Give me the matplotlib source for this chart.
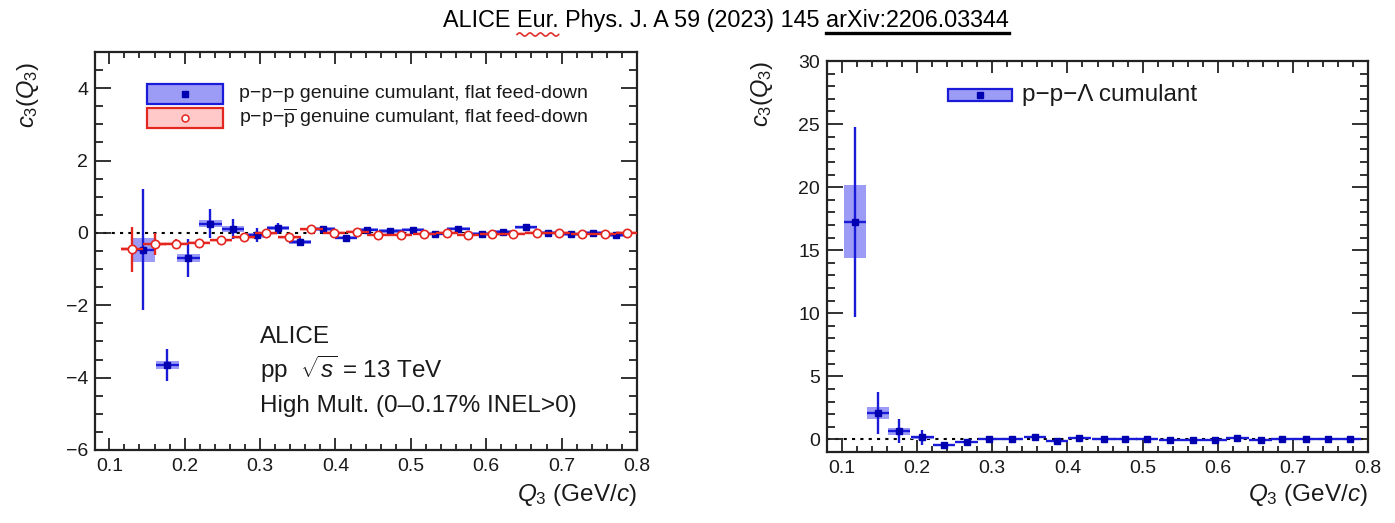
import matplotlib
matplotlib.use('Agg')
import matplotlib.pyplot as plt
from matplotlib.patches import Rectangle
from matplotlib.lines import Line2D
from matplotlib.ticker import MultipleLocator, FixedLocator
import numpy as np

plt.rcParams['font.family'] = ['Liberation Sans', 'DejaVu Sans']
plt.rcParams['mathtext.fontset'] = 'custom'
plt.rcParams['mathtext.rm'] = 'Liberation Sans'
plt.rcParams['mathtext.it'] = 'Liberation Sans:italic'
plt.rcParams['mathtext.bf'] = 'Liberation Sans:bold'
plt.rcParams['axes.unicode_minus'] = True

# ---------------- data ----------------
# left panel: p-p-p genuine cumulant
ppp_x = [0.145, 0.177, 0.205, 0.234, 0.264, 0.296, 0.324, 0.353, 0.384, 0.414, 0.442,
         0.473, 0.503, 0.532, 0.563, 0.594, 0.622, 0.653, 0.682, 0.713, 0.742, 0.772]
ppp_y = [-0.47, -3.65, -0.69, 0.25, 0.11, -0.06, 0.13, -0.25, 0.10, -0.13, 0.09,
         0.06, 0.09, -0.02, 0.12, -0.02, 0.03, 0.15, 0.01, -0.04, 0.01, -0.05]
ppp_stat = [1.67, 0.45, 0.52, 0.40, 0.27, 0.20, 0.15, 0.10, 0.08, 0.07, 0.06,
            0.05, 0.05, 0.05, 0.04, 0.04, 0.04, 0.04, 0.03, 0.03, 0.03, 0.03]
ppp_sys = [0.34, 0.12, 0.11, 0.10, 0.08, 0.07, 0.06, 0.06, 0.05, 0.05, 0.05,
           0.05, 0.05, 0.05, 0.05, 0.05, 0.05, 0.05, 0.05, 0.05, 0.05, 0.05]

# left panel: p-p-pbar genuine cumulant
pppb_x = [0.130, 0.160, 0.189, 0.219, 0.248, 0.278, 0.308, 0.339, 0.368, 0.398, 0.429, 0.457,
          0.487, 0.518, 0.548, 0.576, 0.607, 0.636, 0.667, 0.696, 0.727, 0.757, 0.787]
pppb_y = [-0.45, -0.31, -0.30, -0.27, -0.20, -0.12, -0.01, -0.12, 0.10, 0.00, 0.03, -0.05,
          -0.05, -0.02, 0.01, -0.05, -0.04, -0.02, 0.01, 0.00, -0.02, -0.02, 0.01]
pppb_stat = [0.62, 0.30, 0.12, 0.09, 0.07, 0.06, 0.05, 0.04, 0.04, 0.03, 0.03, 0.03,
             0.03, 0.03, 0.03, 0.03, 0.03, 0.03, 0.03, 0.03, 0.03, 0.03, 0.03]
pppb_sys = [0.06, 0.05, 0.04, 0.04, 0.04, 0.04, 0.04, 0.04, 0.04, 0.04, 0.04, 0.04,
            0.04, 0.04, 0.04, 0.04, 0.04, 0.04, 0.04, 0.04, 0.04, 0.04, 0.04]

# right panel: p-p-Lambda cumulant
ppl_x = [0.117, 0.148, 0.176, 0.207, 0.236, 0.266, 0.296, 0.326, 0.357, 0.386, 0.416, 0.448,
         0.477, 0.506, 0.537, 0.567, 0.597, 0.626, 0.657, 0.686, 0.717, 0.747, 0.776]
ppl_y = [17.25, 2.1, 0.63, 0.15, -0.45, -0.2, 0.05, 0.0, 0.18, -0.16, 0.13, 0.03,
         0.05, 0.05, -0.08, -0.08, -0.08, 0.10, -0.08, 0.03, 0.0, 0.0, 0.05]
ppl_stat = [7.55, 1.65, 0.95, 0.6, 0.25, 0.18, 0.12, 0.1, 0.1, 0.08, 0.08, 0.07,
            0.07, 0.06, 0.06, 0.06, 0.06, 0.06, 0.06, 0.06, 0.06, 0.06, 0.06]
ppl_sys = [2.9, 0.5, 0.25, 0.12, 0.08, 0.06, 0.05, 0.05, 0.05, 0.05, 0.05, 0.05,
           0.05, 0.05, 0.05, 0.05, 0.05, 0.05, 0.05, 0.05, 0.05, 0.05, 0.05]

bin_half = 0.015

BLUE = '#1a1ad9'
BLUE_M = '#0000b0'
BLUE_L = '#9c9cf7'
RED = '#e3261f'
RED_L = '#ffc9c9'
TXT = '#1a1a1a'

W, H = 1395, 523
fig = plt.figure(figsize=(W / 100, H / 100), dpi=100)
ax1 = fig.add_axes([95 / W, 1 - 450 / H, 542 / W, 398 / H])
ax2 = fig.add_axes([827 / W, 1 - 452 / H, 541 / W, 391 / H])


def style(ax):
    ax.tick_params(which='both', direction='in', top=True, right=True,
                   labelsize=14, width=1.3, color='#222222', labelcolor=TXT)
    ax.tick_params(axis='x', which='major', length=8.6, pad=6)
    ax.tick_params(axis='x', which='minor', length=4.3)
    ax.tick_params(axis='y', which='major', length=11.5, pad=5)
    ax.tick_params(axis='y', which='minor', length=5.8)
    for s in ax.spines.values():
        s.set_linewidth(1.6)
        s.set_color('#222222')
    ax.xaxis.set_major_locator(MultipleLocator(0.1))
    ax.xaxis.set_minor_locator(MultipleLocator(0.02))


# ---------------- left panel ----------------
style(ax1)
ax1.set_xlim(0.081, 0.8)
ax1.set_ylim(-6, 5)
ax1.yaxis.set_major_locator(FixedLocator([-6, -4, -2, 0, 2, 4]))
ax1.yaxis.set_minor_locator(MultipleLocator(0.5))
ax1.axhline(0, color='black', ls=(0, (1.5, 2.5)), lw=1.5, zorder=1)

ax1.bar(pppb_x, 2 * np.array(pppb_sys), width=2 * bin_half,
        bottom=np.array(pppb_y) - np.array(pppb_sys), color=RED_L, edgecolor='none', zorder=2)
ax1.bar(ppp_x, 2 * np.array(ppp_sys), width=2 * bin_half,
        bottom=np.array(ppp_y) - np.array(ppp_sys), color=BLUE_L, edgecolor='none', zorder=2)
ax1.errorbar(ppp_x, ppp_y, yerr=ppp_stat, xerr=bin_half, fmt='s', color=BLUE, ms=5,
             mfc=BLUE_M, mec=BLUE_M, elinewidth=1.7, capsize=0, zorder=3)
ax1.errorbar(pppb_x, pppb_y, yerr=pppb_stat, xerr=bin_half, fmt='o', color=RED, ms=6,
             mfc='white', mec=RED, mew=1.2, elinewidth=1.7, capsize=0, zorder=4)

# legend (left)
ax1.add_patch(Rectangle((0.096, 0.869), 0.140, 0.051, transform=ax1.transAxes,
                        fc=BLUE_L, ec=BLUE, lw=1.6, zorder=5))
ax1.add_line(Line2D([0.166], [0.8945], transform=ax1.transAxes, marker='s', ms=4.5,
                    color=BLUE_M, zorder=6))
ax1.add_patch(Rectangle((0.096, 0.809), 0.140, 0.051, transform=ax1.transAxes,
                        fc=RED_L, ec=RED, lw=1.6, zorder=5))
ax1.add_line(Line2D([0.166], [0.8345], transform=ax1.transAxes, marker='o', ms=5,
                    mfc='white', mec=RED, mew=1.1, zorder=6))
ax1.text(0.266, 0.8945, "p\u2212p\u2212p genuine cumulant, flat feed-down",
         transform=ax1.transAxes, fontsize=14, va='center', ha='left', color=TXT)
ax1.text(0.266, 0.8345, "p\u2212p\u2212$\\overline{\\mathrm{p}}$ genuine cumulant, flat feed-down",
         transform=ax1.transAxes, fontsize=14, va='center', ha='left', color=TXT)

ax1.text(0.304, 0.268, "ALICE", transform=ax1.transAxes, fontsize=17.5, color=TXT)
ax1.text(0.304, 0.180, "pp  $\\sqrt{s}$ = 13 TeV", transform=ax1.transAxes, fontsize=17.5,
         color=TXT)
ax1.text(0.304, 0.095, "High Mult. (0\u20130.17% INEL>0)", transform=ax1.transAxes,
         fontsize=17.5, color=TXT)

ax1.set_ylabel("$c_3(Q_3)$", fontsize=17, loc='top', color=TXT)
ax1.yaxis.set_label_coords(-0.10, 0.975)
ax1.set_xlabel("$Q_3$ (GeV/$c$)", fontsize=17.5, loc='right', color=TXT)
ax1.xaxis.set_label_coords(1.0, -0.08)

# ---------------- right panel ----------------
style(ax2)
ax2.set_xlim(0.08, 0.8)
ax2.set_ylim(-1, 30)
ax2.yaxis.set_major_locator(FixedLocator([0, 5, 10, 15, 20, 25, 30]))
ax2.yaxis.set_minor_locator(MultipleLocator(1))
ax2.axhline(0, color='black', ls=(0, (1.5, 2.5)), lw=1.5, zorder=1)

ax2.bar(ppl_x, 2 * np.array(ppl_sys), width=2 * bin_half,
        bottom=np.array(ppl_y) - np.array(ppl_sys), color=BLUE_L, edgecolor='none', zorder=2)
ax2.errorbar(ppl_x, ppl_y, yerr=ppl_stat, xerr=bin_half, fmt='s', color=BLUE, ms=5,
             mfc=BLUE_M, mec=BLUE_M, elinewidth=1.7, capsize=0, zorder=3)

ax2.add_patch(Rectangle((0.224, 0.898), 0.118, 0.030, transform=ax2.transAxes,
                        fc=BLUE_L, ec=BLUE, lw=1.6, zorder=5))
ax2.add_line(Line2D([0.283], [0.913], transform=ax2.transAxes, marker='s', ms=4.5,
                    color=BLUE_M, zorder=6))
ax2.text(0.36, 0.913, "p\u2212p\u2212\u039b cumulant", transform=ax2.transAxes,
         fontsize=17.5, va='center', ha='left', color=TXT)

ax2.set_ylabel("$c_3(Q_3)$", fontsize=17, loc='top', color=TXT)
ax2.yaxis.set_label_coords(-0.096, 1.0)
ax2.set_xlabel("$Q_3$ (GeV/$c$)", fontsize=17.5, loc='right', color=TXT)
ax2.xaxis.set_label_coords(1.0, -0.077)

# ---------------- title ----------------
full = "ALICE Eur. Phys. J. A 59 (2023) 145 arXiv:2206.03344"
tx, ty = 443 / W, 1 - 20 / H
tsize = 16.8
title = fig.text(tx, ty, full, fontsize=tsize, ha='left', va='center', color='black')
r = fig.canvas.get_renderer()


def width_of(s):
    t = fig.text(0, 0, s, fontsize=tsize)
    w = t.get_window_extent(r).width
    t.remove()
    return w


bb = title.get_window_extent(r)
w_full = width_of(full)
w_arx = width_of("arXiv:2206.03344")
x0 = bb.x0
ul_start = x0 + w_full - w_arx
ul_y = bb.y0 - 1
fig.add_artist(Line2D([ul_start / W, (x0 + w_full) / W], [ul_y / H, ul_y / H],
                      color='black', lw=2.4, transform=fig.transFigure))
w_eur_end = width_of("ALICE Eur.")
w_eur = width_of("Eur.")
es, ee = x0 + w_eur_end - w_eur, x0 + w_eur_end
xs = np.linspace(es, ee, 60)
ys = bb.y0 - 3 + 1.6 * np.sin((xs - es) / (ee - es) * 2 * np.pi * 4)
fig.add_artist(Line2D(xs / W, ys / H, color='#e0302a', lw=1.2, transform=fig.transFigure))

fig.savefig('out.png', dpi=100)
